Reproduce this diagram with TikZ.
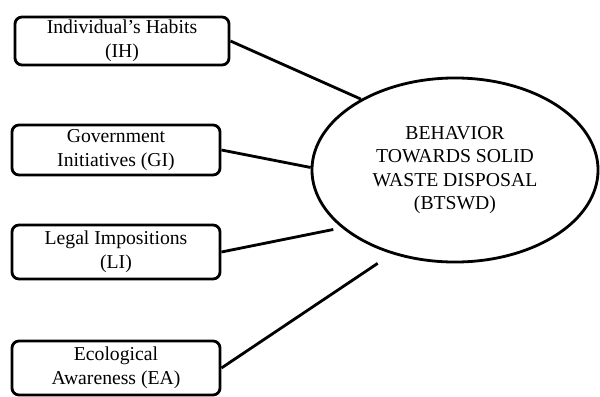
\documentclass[tikz,border=0pt]{standalone}
\usepackage{fontspec}
\setmainfont{Liberation Serif}
\usepackage{tikz}
\usetikzlibrary{shapes.geometric}

\begin{document}
\begin{tikzpicture}[x=0.025cm, y=-0.025cm,
  factor/.style={draw, line width=2pt, rounded corners=5pt, align=center, inner sep=1pt, font=\fontsize{14}{17}\selectfont},
  link/.style={line width=2pt}]
\useasboundingbox (0,0) rectangle (600,396);
% Factor boxes
\node[factor, minimum width=5.35cm, minimum height=1.2cm] (ih) at (122,41) {Individual's Habits\\(IH)};
\node[factor, minimum width=5.2cm, minimum height=1.25cm] (gi) at (116,150) {Government\\Initiatives (GI)};
\node[factor, minimum width=5.2cm, minimum height=1.35cm] (li) at (116,252) {Legal Impositions\\(LI)};
\node[factor, minimum width=5.2cm, minimum height=1.35cm] (ea) at (116,368) {Ecological\\Awareness (EA)};
% Outcome
\node[draw, ellipse, line width=2pt, align=center, minimum width=7.15cm, minimum height=4.6cm, inner sep=0pt, font=\fontsize{14}{16.5}\selectfont] (bt) at (455,170) {BEHAVIOR\\TOWARDS SOLID\\WASTE DISPOSAL\\(BTSWD)};
% Links
\draw[link] (ih.east) -- (bt.143);
\draw[link] (gi.east) -- (bt.179);
\draw[link, shorten >=6pt] (li.east) -- (bt.207);
\draw[link, shorten >=12pt] (ea.east) -- (bt.233);
\end{tikzpicture}
\end{document}
